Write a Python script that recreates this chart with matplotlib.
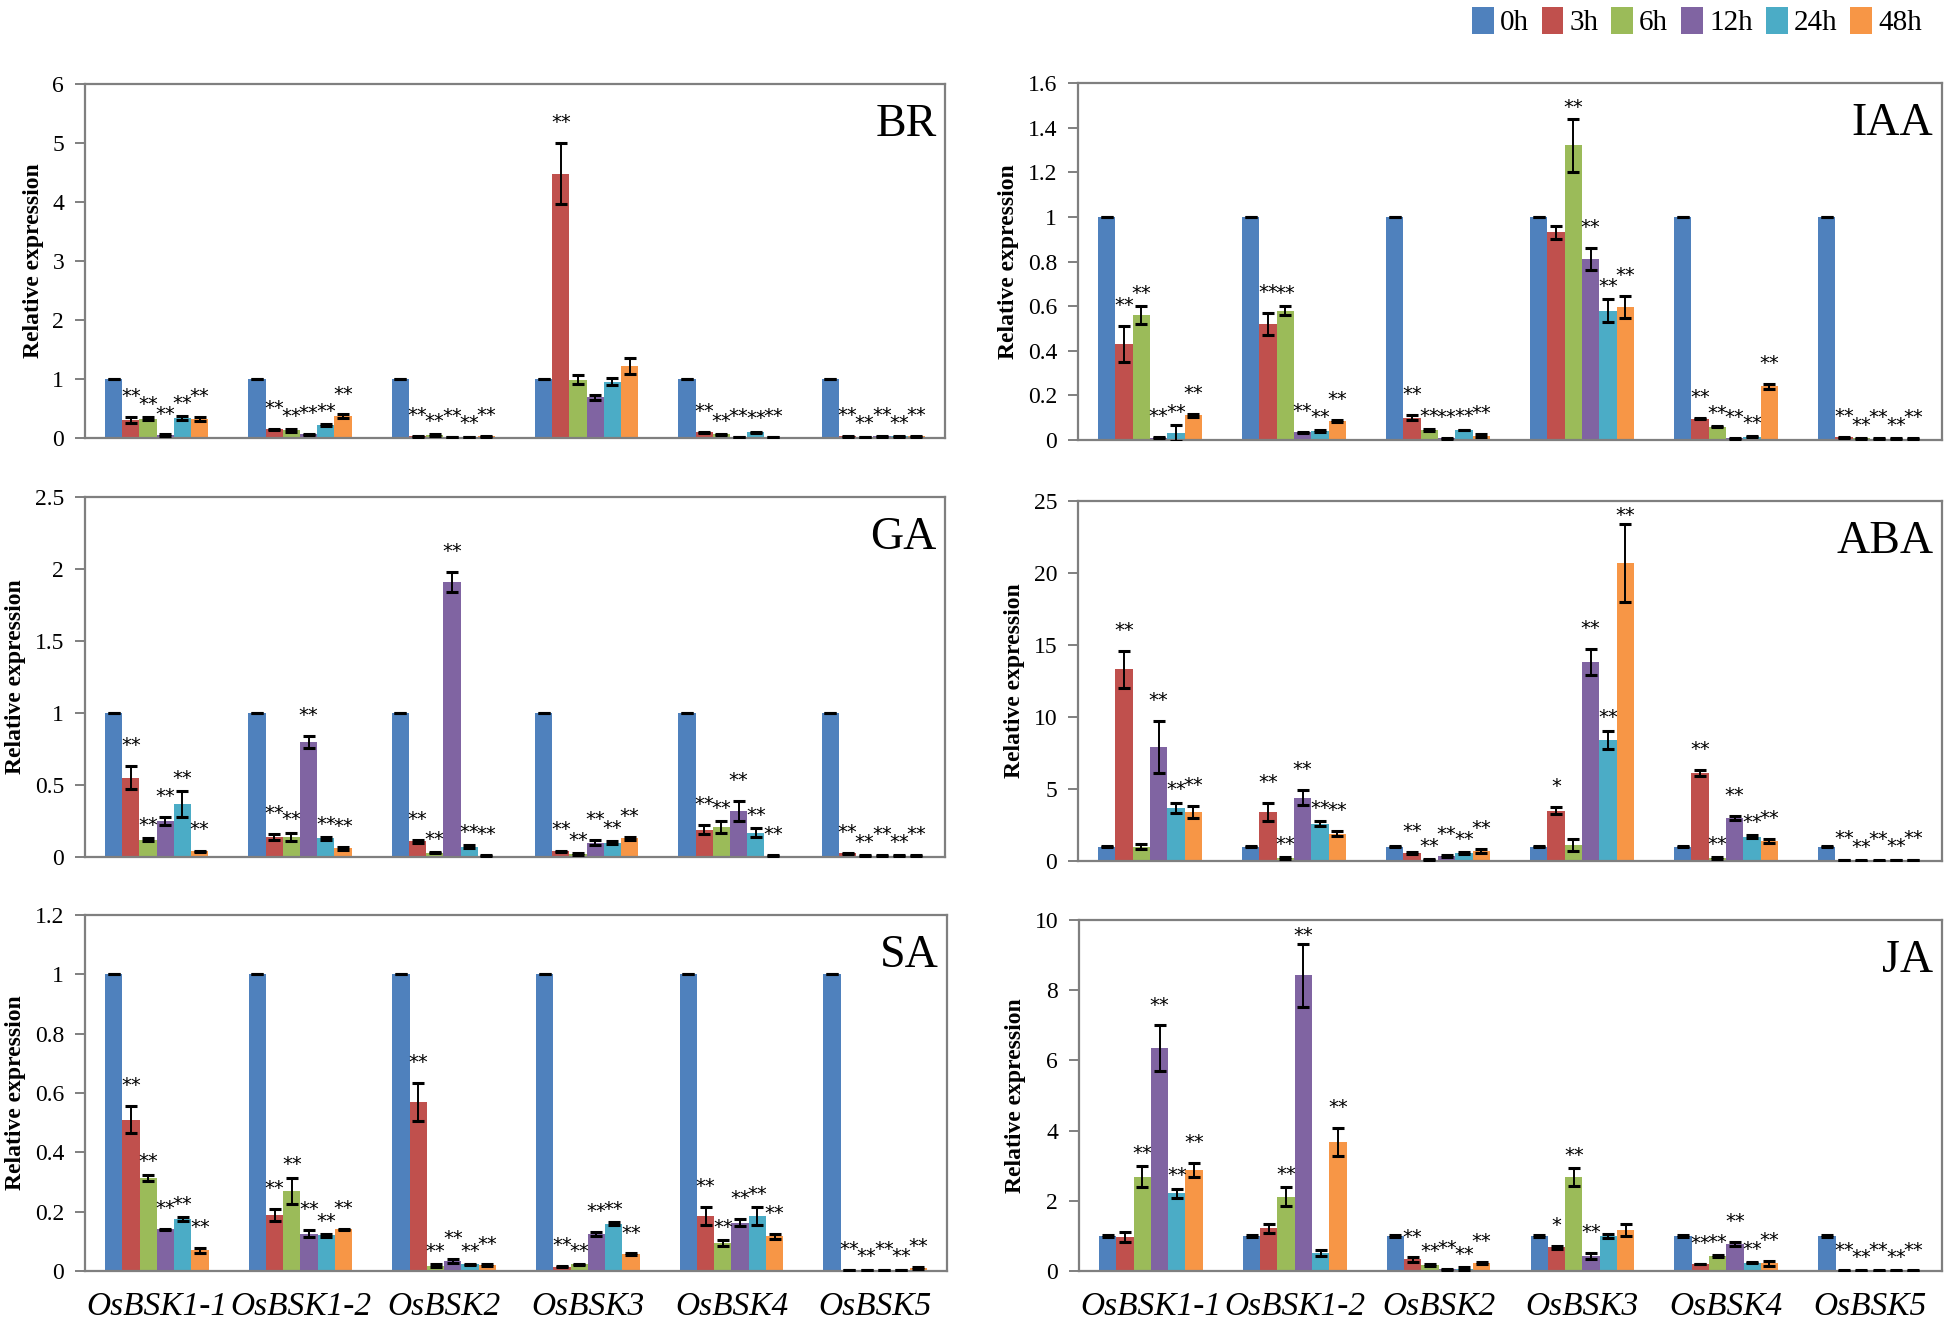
import numpy as np
import matplotlib
matplotlib.use('Agg')
import matplotlib.pyplot as plt
from matplotlib.patches import Patch
from matplotlib.ticker import MultipleLocator, FormatStrFormatter

#%% Data (rows = genes, columns = time points)
genes   = ['OsBSK1-1', 'OsBSK1-2', 'OsBSK2', 'OsBSK3', 'OsBSK4', 'OsBSK5']
times   = ['0h', '3h', '6h', '12h', '24h', '48h']
colours = ['#4F81BD', '#C0504D', '#9BBB59', '#8064A2', '#4BACC6', '#F79646']

br_mean = [[1, 0.30, 0.33, 0.05, 0.34, 0.32],
           [1, 0.15, 0.13, 0.06, 0.22, 0.37],
           [1, 0.03, 0.05, 0.02, 0.02, 0.03],
           [1, 4.48, 0.99, 0.69, 0.95, 1.22],
           [1, 0.10, 0.06, 0.02, 0.10, 0.02],
           [1, 0.03, 0.02, 0.03, 0.03, 0.03]]
br_err  = [[0, 0.05, 0.03, 0.01, 0.03, 0.03],
           [0, 0.01, 0.02, 0.01, 0.02, 0.03],
           [0, 0.01, 0.01, 0.005, 0.005, 0.005],
           [0, 0.52, 0.07, 0.04, 0.06, 0.13],
           [0, 0.01, 0.01, 0.005, 0.01, 0.005],
           [0, 0.005, 0.005, 0.005, 0.005, 0.005]]
br_sig  = [['', '**', '**', '**', '**', '**'],
           ['', '**', '**', '**', '**', '**'],
           ['', '**', '**', '**', '**', '**'],
           ['', '**', '', '', '', ''],
           ['', '**', '**', '**', '**', '**'],
           ['', '**', '**', '**', '**', '**']]

iaa_mean = [[1, 0.43, 0.56, 0.01, 0.03, 0.11],
            [1, 0.52, 0.58, 0.035, 0.04, 0.085],
            [1, 0.10, 0.045, 0.008, 0.045, 0.02],
            [1, 0.93, 1.32, 0.81, 0.58, 0.595],
            [1, 0.095, 0.06, 0.008, 0.015, 0.24],
            [1, 0.012, 0.008, 0.006, 0.005, 0.005]]
iaa_err  = [[0, 0.08, 0.04, 0.003, 0.035, 0.005],
            [0, 0.05, 0.02, 0.003, 0.005, 0.005],
            [0, 0.01, 0.005, 0.002, 0.002, 0.005],
            [0, 0.03, 0.12, 0.05, 0.05, 0.05],
            [0, 0.003, 0.003, 0.002, 0.003, 0.01],
            [0, 0.003, 0.002, 0.002, 0.002, 0.002]]
iaa_sig  = [['', '**', '**', '**', '**', '**'],
            ['', '**', '**', '**', '**', '**'],
            ['', '**', '**', '**', '**', '**'],
            ['', '', '**', '**', '**', '**'],
            ['', '**', '**', '**', '**', '**'],
            ['', '**', '**', '**', '**', '**']]

ga_mean = [[1, 0.55, 0.12, 0.25, 0.37, 0.04],
           [1, 0.14, 0.14, 0.80, 0.13, 0.06],
           [1, 0.11, 0.03, 1.91, 0.07, 0.01],
           [1, 0.04, 0.02, 0.10, 0.10, 0.13],
           [1, 0.19, 0.21, 0.32, 0.17, 0.01],
           [1, 0.025, 0.01, 0.01, 0.01, 0.01]]
ga_err  = [[0, 0.08, 0.01, 0.03, 0.09, 0.005],
           [0, 0.02, 0.03, 0.04, 0.01, 0.01],
           [0, 0.01, 0.005, 0.07, 0.01, 0.003],
           [0, 0.005, 0.005, 0.02, 0.01, 0.01],
           [0, 0.03, 0.04, 0.07, 0.03, 0.003],
           [0, 0.005, 0.003, 0.003, 0.003, 0.003]]
ga_sig  = [['', '**', '**', '**', '**', '**']] * 6

aba_mean = [[1, 13.3, 1.0, 7.9, 3.7, 3.4],
            [1, 3.4, 0.2, 4.4, 2.6, 1.9],
            [1, 0.55, 0.1, 0.35, 0.55, 0.7],
            [1, 3.5, 1.1, 13.8, 8.4, 20.7],
            [1, 6.1, 0.2, 3.0, 1.7, 1.4],
            [1, 0.08, 0.05, 0.05, 0.08, 0.08]]
aba_err  = [[0.05, 1.3, 0.2, 1.8, 0.35, 0.4],
            [0.05, 0.6, 0.05, 0.5, 0.15, 0.15],
            [0.05, 0.05, 0.02, 0.05, 0.05, 0.15],
            [0.05, 0.25, 0.4, 0.9, 0.65, 2.7],
            [0.05, 0.2, 0.05, 0.15, 0.1, 0.15],
            [0.05, 0.02, 0.02, 0.02, 0.02, 0.02]]
aba_sig  = [['', '**', '', '**', '**', '**'],
            ['', '**', '**', '**', '**', '**'],
            ['', '**', '**', '**', '**', '**'],
            ['', '*', '', '**', '**', '**'],
            ['', '**', '**', '**', '**', '**'],
            ['', '**', '**', '**', '**', '**']]

sa_mean = [[1, 0.51, 0.315, 0.14, 0.175, 0.07],
           [1, 0.19, 0.27, 0.125, 0.12, 0.14],
           [1, 0.57, 0.018, 0.035, 0.022, 0.02],
           [1, 0.015, 0.022, 0.125, 0.16, 0.057],
           [1, 0.185, 0.093, 0.163, 0.185, 0.117],
           [1, 0.004, 0.004, 0.004, 0.004, 0.01]]
sa_err  = [[0, 0.045, 0.01, 0.003, 0.008, 0.008],
           [0, 0.02, 0.045, 0.012, 0.004, 0.003],
           [0, 0.065, 0.005, 0.007, 0.002, 0.002],
           [0, 0.002, 0.002, 0.008, 0.005, 0.002],
           [0, 0.03, 0.01, 0.012, 0.03, 0.008],
           [0, 0.001, 0.001, 0.001, 0.001, 0.002]]
sa_sig  = [['', '**', '**', '**', '**', '**']] * 6

ja_mean = [[1, 0.97, 2.68, 6.35, 2.22, 2.88],
           [1, 1.22, 2.12, 8.42, 0.52, 3.68],
           [1, 0.33, 0.18, 0.05, 0.07, 0.22],
           [1, 0.67, 2.68, 0.42, 1.0, 1.17],
           [1, 0.2, 0.42, 0.78, 0.24, 0.22],
           [1, 0.01, 0.01, 0.01, 0.01, 0.01]]
ja_err  = [[0.02, 0.15, 0.3, 0.65, 0.13, 0.2],
           [0.02, 0.13, 0.27, 0.9, 0.08, 0.4],
           [0.02, 0.06, 0.03, 0.01, 0.03, 0.03],
           [0.02, 0.04, 0.25, 0.09, 0.05, 0.18],
           [0.02, 0.01, 0.03, 0.06, 0.02, 0.07],
           [0.02, 0.005, 0.005, 0.005, 0.005, 0.005]]
ja_sig  = [['', '', '**', '**', '**', '**'],
           ['', '', '**', '**', '', '**'],
           ['', '**', '**', '**', '**', '**'],
           ['', '*', '**', '**', '', ''],
           ['', '**', '**', '**', '**', '**'],
           ['', '**', '**', '**', '**', '**']]

#%% Panels: name, data, y max, tick step, pixel box (x0, y0, x1, y1)
panels = [('BR',  br_mean,  br_err,  br_sig,  6,   1,   (85, 84, 945, 438)),
          ('IAA', iaa_mean, iaa_err, iaa_sig, 1.6, 0.2, (1078, 83, 1942, 440)),
          ('GA',  ga_mean,  ga_err,  ga_sig,  2.5, 0.5, (85, 497, 945, 857)),
          ('ABA', aba_mean, aba_err, aba_sig, 25,  5,   (1078, 501, 1942, 861)),
          ('SA',  sa_mean,  sa_err,  sa_sig,  1.2, 0.2, (85, 915, 947, 1271)),
          ('JA',  ja_mean,  ja_err,  ja_sig,  10,  2,   (1079, 920, 1942, 1271))]

W, H = 1945, 1328
plt.rcParams['font.family'] = ['Liberation Serif', 'DejaVu Serif']
fig = plt.figure(figsize=(W / 100, H / 100), dpi=100)

bw = 0.12
spine_col = '#7f7f7f'

for k, (name, mean, err, sig, ymax, step, box) in enumerate(panels):
    x0, y0, x1, y1 = box
    ax = fig.add_axes([x0 / W, 1 - y1 / H, (x1 - x0) / W, (y1 - y0) / H])
    mean = np.array(mean)
    err = np.array(err)
    xg = np.arange(len(genes))
    for j in range(len(times)):
        xs = xg + (j - 2.5) * bw
        ax.bar(xs, mean[:, j], width=bw, color=colours[j], edgecolor='none', zorder=2)
        ax.errorbar(xs, mean[:, j], yerr=err[:, j], fmt='none', ecolor='black',
                    elinewidth=1.4, capsize=4, capthick=2.2, zorder=3)
        for i in range(len(genes)):
            if sig[i][j]:
                top = mean[i, j] + err[i, j]
                off = 0.02 + 0.022 * (j % 2)
                # keep the stars inside the frame but above the error bar
                ys = max(min(top + off * ymax, 0.915 * ymax), top + 0.008 * ymax)
                ax.text(xs[i], ys, sig[i][j], ha='center', va='baseline',
                        fontsize=14, family='DejaVu Sans', zorder=4)

    ax.set_xlim(-0.5, len(genes) - 0.5)
    ax.set_ylim(0, ymax)
    ax.yaxis.set_major_locator(MultipleLocator(step))
    ax.yaxis.set_major_formatter(FormatStrFormatter('%g'))
    for s in ax.spines.values():
        s.set_color(spine_col)
        s.set_linewidth(1.6)
    ax.tick_params(axis='y', direction='out', length=7, width=1.4, color=spine_col,
                   labelsize=17, pad=8)
    ax.tick_params(axis='x', length=0, pad=15)
    ax.set_xticks(xg)
    if k >= 4:
        ax.set_xticklabels(genes, fontsize=24, style='italic')
    else:
        ax.set_xticklabels([])
    ax.set_ylabel('Relative expression', fontsize=17, fontweight='bold', labelpad=6)
    ax.text(0.99, 0.945, name, transform=ax.transAxes, ha='right', va='top', fontsize=33)

handles = [Patch(facecolor=c, edgecolor='none') for c in colours]
fig.legend(handles, times, loc='upper right', bbox_to_anchor=(0.997, 1.008), ncol=6,
           frameon=False, fontsize=21, handlelength=0.75, handleheight=1.05,
           handletextpad=0.2, columnspacing=0.45, borderpad=0.1)

fig.savefig('out.png', dpi=100)
